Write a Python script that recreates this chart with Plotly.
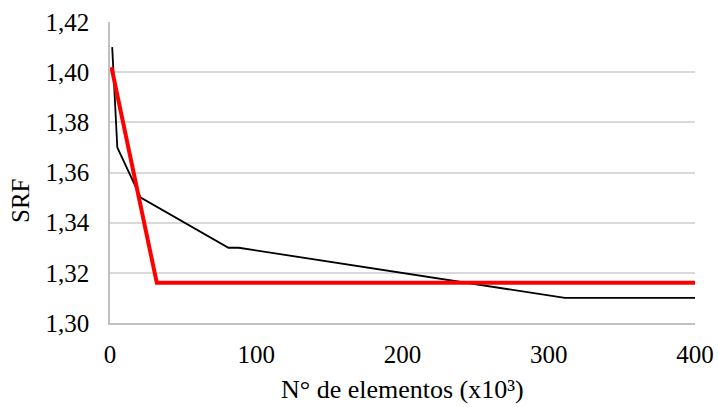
import plotly.graph_objects as go

# black series: mesh refinement study
elem_black = [1.5, 5, 21, 81, 88, 311, 400]
srf_black = [1.41, 1.37, 1.35, 1.33, 1.33, 1.31, 1.31]

# red series
elem_red = [1.0, 32, 400]
srf_red = [1.402, 1.316, 1.316]

fig = go.Figure()
fig.add_trace(go.Scatter(x=elem_black, y=srf_black, mode="lines",
                         line=dict(color="black", width=1.8), showlegend=False))
fig.add_trace(go.Scatter(x=elem_red, y=srf_red, mode="lines",
                         line=dict(color="#ff0000", width=4), showlegend=False))

font = dict(family="Times New Roman, Liberation Serif, serif", size=25, color="black")
title_font = dict(family="Times New Roman, Liberation Serif, serif", size=26, color="black")
fig.update_layout(
    width=718, height=407,
    margin=dict(l=110, r=23, t=22, b=84),
    paper_bgcolor="white", plot_bgcolor="white",
    separators=",.",
    font=font,
)
fig.update_xaxes(
    range=[0, 400], tickvals=[0, 100, 200, 300, 400],
    showgrid=False, zeroline=False, automargin=False,
    showline=True, linecolor="#c0c0c0", linewidth=1.5,
    ticks="", ticklabelstandoff=8, tickfont=font,
)
fig.update_yaxes(
    range=[1.30, 1.42], tickvals=[1.30, 1.32, 1.34, 1.36, 1.38, 1.40, 1.42],
    tickformat=".2f",
    showgrid=True, gridcolor="#d9d9d9", gridwidth=1.5, zeroline=False,
    automargin=False,
    showline=True, linecolor="#c0c0c0", linewidth=1.5,
    ticks="", ticklabelstandoff=14, tickfont=font,
)
fig.add_annotation(text="N° de elementos (x10³)", xref="paper", yref="paper",
                   x=0.5, y=-0.222, xanchor="center", yanchor="middle",
                   showarrow=False, font=title_font)
fig.add_annotation(text="SRF", xref="paper", yref="paper", textangle=-90,
                   x=-0.154, y=0.405, xanchor="center", yanchor="middle",
                   showarrow=False, font=font)

fig.write_html("out.html", config={"displayModeBar": False},
               post_script="document.body.style.margin='0';")
